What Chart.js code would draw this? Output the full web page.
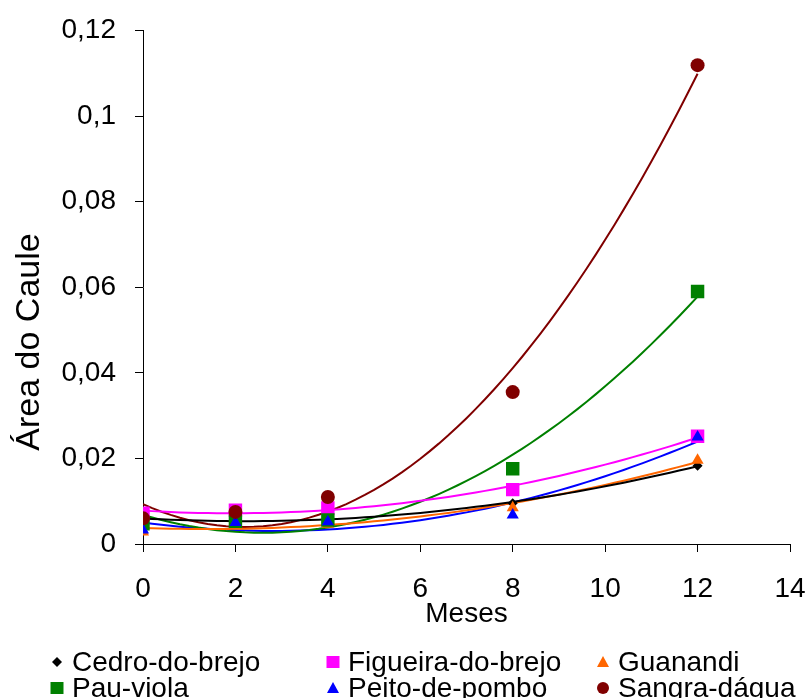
<!DOCTYPE html>
<html>
<head>
<meta charset="utf-8">
<script src="https://cdn.jsdelivr.net/npm/chart.js@4.4.1/dist/chart.umd.min.js"></script>
<style>
  html, body { margin: 0; padding: 0; background: #fff; }
</style>
</head>
<body>
<canvas id="grafico" width="809" height="698"></canvas>
<script>
// meses de avaliacao
var meses = [0, 2, 4, 8, 12];

var especies = ['Cedro-do-brejo', 'Figueira-do-brejo', 'Guanandi', 'Pau-viola', 'Peito-de-pombo', 'Sangra-dágua'];

// area do caule
var cedro    = [0.0058, 0.0055, 0.0060, 0.0095, 0.0183];
var figueira = [0.0072, 0.0079, 0.0084, 0.0127, 0.0252];
var guanandi = [0.0028, 0.0050, 0.0046, 0.0085, 0.0196];
var pauViola = [0.0047, 0.0053, 0.0056, 0.0176, 0.0590];
var peito    = [0.0033, 0.0050, 0.0052, 0.0068, 0.0250];
var sangra   = [0.0060, 0.0075, 0.0110, 0.0355, 0.1119];

var xTicks = [0, 2, 4, 6, 8, 10, 12, 14];
var yTicks = [0, 0.02, 0.04, 0.06, 0.08, 0.1, 0.12];

var series = [cedro, figueira, guanandi, pauViola, peito, sangra];
var cores = ['#000000', '#FF00FF', '#FF6600', '#008000', '#0000FF', '#800000'];
var estilos = ['rectRot', 'rect', 'triangle', 'rect', 'triangle', 'circle'];
var raios = [5, 9.5, 7, 9.5, 7, 7];

var fonte = '"Liberation Sans", Arial, sans-serif';

// tendencia polinomial de 2a ordem (minimos quadrados), como no Excel
function ajustePoli2(xs, ys) {
  var s = [0, 0, 0, 0, 0], t = [0, 0, 0];
  for (var i = 0; i < xs.length; i++) {
    var p = 1;
    for (var k = 0; k < 5; k++) { s[k] += p; if (k < 3) t[k] += p * ys[i]; p *= xs[i]; }
  }
  var m = [[s[0], s[1], s[2], t[0]], [s[1], s[2], s[3], t[1]], [s[2], s[3], s[4], t[2]]];
  for (var c = 0; c < 3; c++) {
    for (var r = c + 1; r < 3; r++) {
      var f = m[r][c] / m[c][c];
      for (var j = c; j < 4; j++) m[r][j] -= f * m[c][j];
    }
  }
  var b = [0, 0, 0];
  for (var r2 = 2; r2 >= 0; r2--) {
    var v = m[r2][3];
    for (var j2 = r2 + 1; j2 < 3; j2++) v -= m[r2][j2] * b[j2];
    b[r2] = v / m[r2][r2];
  }
  return b;
}

function curva(ys) {
  var b = ajustePoli2(meses, ys);
  var pts = [];
  for (var x = meses[0]; x <= meses[meses.length - 1] + 1e-9; x += 0.2) {
    pts.push({ x: x, y: b[0] + b[1] * x + b[2] * x * x });
  }
  return pts;
}

var datasets = [];
series.forEach(function (ys, i) {
  datasets.push({
    type: 'line',
    label: especies[i] + ' tendência',
    data: curva(ys),
    borderColor: cores[i],
    borderWidth: 2,
    pointRadius: 0,
    fill: false,
    tension: 0,
    order: 20 + i
  });
});
series.forEach(function (ys, i) {
  datasets.push({
    type: 'scatter',
    label: especies[i],
    data: meses.map(function (m, k) { return { x: m, y: ys[k] }; }),
    backgroundColor: cores[i],
    borderColor: cores[i],
    borderWidth: 0,
    pointStyle: estilos[i],
    pointRadius: raios[i],
    pointHoverRadius: raios[i],
    order: 10 - i
  });
});

// legenda em 3 colunas, como no original
var legendaPos = [[57, 662], [333, 662], [603, 662], [57, 688], [333, 688], [603, 688]];

function marcador(ctx, estilo, x, y, cor) {
  ctx.fillStyle = cor;
  ctx.beginPath();
  if (estilo === 'rectRot') {
    ctx.moveTo(x, y - 5); ctx.lineTo(x + 5, y); ctx.lineTo(x, y + 5); ctx.lineTo(x - 5, y);
  } else if (estilo === 'rect') {
    ctx.rect(x - 6.5, y - 6, 13, 12);
  } else if (estilo === 'triangle') {
    ctx.moveTo(x, y - 6); ctx.lineTo(x + 6, y + 5); ctx.lineTo(x - 6, y + 5);
  } else {
    ctx.arc(x, y, 6, 0, Math.PI * 2);
  }
  ctx.closePath();
  ctx.fill();
}

var legendaPlugin = {
  id: 'legendaPlugin',
  afterDraw: function (chart) {
    var ctx = chart.ctx;
    ctx.save();
    ctx.font = '28px ' + fonte;
    ctx.textBaseline = 'middle';
    ctx.textAlign = 'left';
    especies.forEach(function (nome, i) {
      var p = legendaPos[i];
      marcador(ctx, estilos[i], p[0], p[1], cores[i]);
      ctx.fillStyle = '#000';
      ctx.fillText(nome, p[0] + 15, p[1] + 1);
    });
    // titulo do eixo y, deslocado para baixo como no original
    ctx.translate(30, 342);
    ctx.rotate(-Math.PI / 2);
    ctx.textAlign = 'center';
    ctx.font = '34px ' + fonte;
    ctx.fillText('Área do Caule', 0, 0);
    ctx.restore();
  }
};

function semFolga(s) {
  s.paddingTop = 0; s.paddingBottom = 0; s.paddingLeft = 0; s.paddingRight = 0;
}

new Chart(document.getElementById('grafico'), {
  data: { datasets: datasets },
  options: {
    responsive: false,
    animation: false,
    devicePixelRatio: 1,
    layout: { padding: { top: 30.5, right: 19, left: 0, bottom: 0 } },
    plugins: {
      legend: { display: false },
      tooltip: { enabled: false }
    },
    scales: {
      x: {
        type: 'linear',
        min: 0,
        max: 14,
        afterFit: function (s) { s.height = 154; semFolga(s); },
        afterBuildTicks: function (s) { s.ticks = xTicks.map(function (v) { return { value: v }; }); },
        grid: { drawOnChartArea: false, drawTicks: true, tickLength: 8, color: '#000', lineWidth: 1 },
        border: { color: '#000', width: 1 },
        ticks: { color: '#000', font: { family: fonte, size: 28 }, padding: 20, maxRotation: 0 },
        title: {
          display: true,
          text: 'Meses',
          color: '#000',
          font: { family: fonte, size: 28 },
          padding: { top: 0, bottom: 67 }
        }
      },
      y: {
        type: 'linear',
        min: 0,
        max: 0.12,
        afterFit: function (s) { s.width = 143; semFolga(s); },
        afterBuildTicks: function (s) { s.ticks = yTicks.map(function (v) { return { value: v }; }); },
        grid: { drawOnChartArea: false, drawTicks: true, tickLength: 8, color: '#000', lineWidth: 1 },
        border: { color: '#000', width: 1 },
        ticks: {
          color: '#000',
          font: { family: fonte, size: 28 },
          padding: 19,
          callback: function (v) { return String(Math.round(v * 100) / 100).replace('.', ','); }
        }
      }
    }
  },
  plugins: [legendaPlugin]
});
</script>
</body>
</html>
